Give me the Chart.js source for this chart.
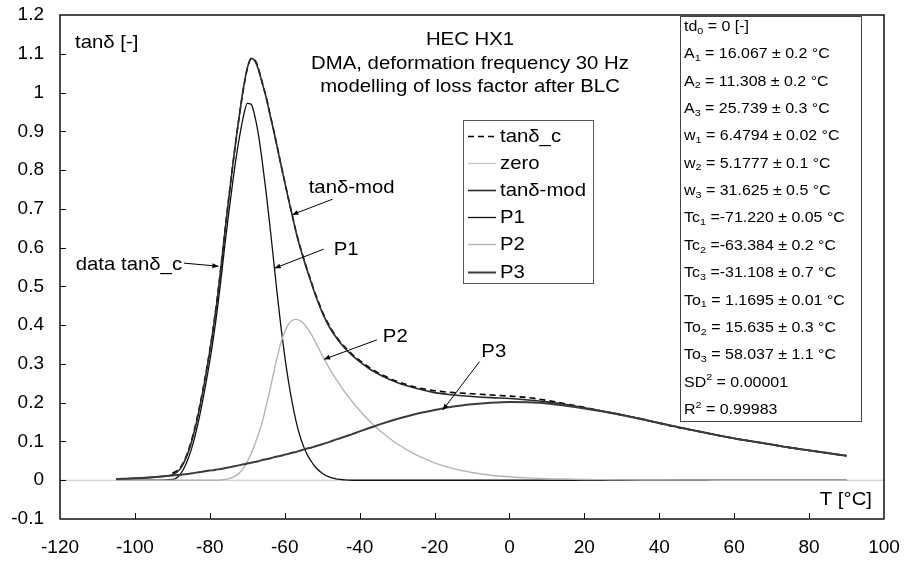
<!DOCTYPE html>
<html>
<head>
<meta charset="utf-8">
<title>HEC HX1 - tanδ</title>
<script src="https://cdn.jsdelivr.net/npm/chart.js@4/dist/chart.umd.min.js"></script>
<style>
  body { margin: 0; background: #fff; }
  #wrap { width: 904px; height: 563px; position: relative; }
</style>
</head>
<body>
<div id="wrap"><canvas id="chart-tan"></canvas></div>
<script>
// temperature grid [°C]
var temps = [-105, -100, -95, -90, -88, -86, -84, -82,
  -80, -79, -78, -77, -76, -75, -74, -73, -72, -71, -70, -69, -68, -67, -66,
  -65, -64, -63, -62, -61, -60, -59, -58, -57, -56, -55, -54, -53, -52,
  -50, -48, -46, -44, -42, -40, -37, -34, -30,
  -25, -20, -15, -10, -5, 0,
  5, 10, 15, 20, 25, 30, 35, 40, 45, 50, 55, 60, 65, 70, 75, 80, 85, 90];

// measured loss factor (starts at -90)
var tanC = [null, null, null, 0.018, 0.031, 0.069, 0.135, 0.226,
  0.336, 0.400, 0.471, 0.553, 0.640, 0.724, 0.803, 0.879, 0.948, 1.011, 1.061, 1.086, 1.084, 1.061, 1.026,
  0.990, 0.947, 0.905, 0.860, 0.814, 0.770, 0.726, 0.684, 0.642, 0.606, 0.574, 0.543, 0.514, 0.486,
  0.436, 0.397, 0.367, 0.344, 0.325, 0.309, 0.288, 0.272, 0.255,
  0.240, 0.231, 0.226, 0.223, 0.220, 0.217,
  0.213, 0.206, 0.197, 0.188, 0.178, 0.168, 0.158, 0.147, 0.136, 0.127, 0.117, 0.108, 0.100, 0.092, 0.084, 0.077, 0.070, 0.063];

// model sum
var tanMod = [0.003, 0.005, 0.008, 0.014, 0.028, 0.066, 0.131, 0.222,
  0.333, 0.396, 0.468, 0.550, 0.638, 0.722, 0.802, 0.879, 0.949, 1.013, 1.063, 1.088, 1.082, 1.059, 1.024,
  0.989, 0.946, 0.904, 0.859, 0.813, 0.769, 0.725, 0.683, 0.641, 0.604, 0.572, 0.541, 0.512, 0.483,
  0.433, 0.394, 0.365, 0.341, 0.322, 0.306, 0.285, 0.269, 0.252,
  0.237, 0.226, 0.220, 0.216, 0.213, 0.211,
  0.207, 0.202, 0.195, 0.187, 0.178, 0.169, 0.159, 0.148, 0.137, 0.127, 0.117, 0.108, 0.100, 0.092, 0.084, 0.077, 0.070, 0.063];

var p1 = [0, 0, 0, 0.002, 0.014, 0.050, 0.112, 0.200,
  0.308, 0.370, 0.440, 0.520, 0.605, 0.685, 0.760, 0.830, 0.890, 0.940, 0.972, 0.970, 0.940, 0.890, 0.822,
  0.745, 0.660, 0.570, 0.480, 0.395, 0.320, 0.255, 0.200, 0.153, 0.116, 0.088, 0.066, 0.050, 0.036,
  0.018, 0.008, 0.003, 0.001, 0, 0, 0, 0, 0,
  0, 0, 0, 0, 0, 0,
  0, 0, 0, 0, 0, 0, 0, 0, 0, 0, 0, 0, 0, 0, 0, 0, 0, 0];

var p2 = [0, 0, 0, 0, 0, 0, 0, 0,
  0, 0, 0, 0.001, 0.002, 0.004, 0.007, 0.012, 0.020, 0.032, 0.048, 0.068, 0.092, 0.120, 0.150,
  0.190, 0.230, 0.275, 0.318, 0.355, 0.383, 0.402, 0.412, 0.415, 0.412, 0.405, 0.393, 0.378, 0.360,
  0.322, 0.287, 0.256, 0.228, 0.203, 0.180, 0.149, 0.123, 0.094,
  0.066, 0.045, 0.030, 0.020, 0.013, 0.009,
  0.006, 0.004, 0.003, 0.002, 0.0015, 0.001, 0.0007, 0.0005, 0.0003, 0.0002, 0.0001, 0, 0, 0, 0, 0, 0, 0];

var p3 = [0.003, 0.005, 0.008, 0.012, 0.014, 0.016, 0.019, 0.022,
  0.025, 0.026, 0.028, 0.029, 0.031, 0.033, 0.035, 0.037, 0.039, 0.041, 0.043, 0.045, 0.047, 0.049, 0.052,
  0.054, 0.056, 0.059, 0.061, 0.063, 0.066, 0.068, 0.071, 0.073, 0.076, 0.079, 0.082, 0.084, 0.087,
  0.093, 0.099, 0.106, 0.112, 0.119, 0.126, 0.136, 0.146, 0.158,
  0.171, 0.181, 0.190, 0.196, 0.200, 0.202,
  0.201, 0.198, 0.192, 0.185, 0.177, 0.168, 0.158, 0.147, 0.137, 0.127, 0.117, 0.108, 0.100, 0.092, 0.084, 0.077, 0.070, 0.063];

var zeroT = [-120, 100];
var zeroV = [0, 0];

var titleLines = ["HEC HX1", "DMA, deformation frequency 30 Hz", "modelling of loss factor after BLC"];

// fit parameters, _n = subscript, ^n = superscript
var params = [
  "td_0 = 0 [-]",
  "A_1 = 16.067 ± 0.2 °C",
  "A_2 = 11.308 ± 0.2 °C",
  "A_3 = 25.739 ± 0.3 °C",
  "w_1 = 6.4794 ± 0.02 °C",
  "w_2 = 5.1777 ± 0.1 °C",
  "w_3 = 31.625 ± 0.5 °C",
  "Tc_1 =-71.220 ± 0.05 °C",
  "Tc_2 =-63.384 ± 0.2 °C",
  "Tc_3 =-31.108 ± 0.7 °C",
  "To_1 = 1.1695 ± 0.01 °C",
  "To_2 = 15.635 ± 0.3 °C",
  "To_3 = 58.037 ± 1.1 °C",
  "SD^2 = 0.00001",
  "R^2 = 0.99983"
];

// callouts: text anchor (tx,ty), arrow from (fx,fy) to (ax,ay), data units
var notes = [
  { text: "data tanδ_c", align: "right", tx: -87.4, ty: 0.555, fx: -86.9, fy: 0.560, ax: -77.7, ay: 0.552 },
  { text: "tanδ-mod", align: "left", tx: -53.6, ty: 0.754, fx: -47.2, fy: 0.725, ax: -58.0, ay: 0.685 },
  { text: "P1", align: "left", tx: -46.9, ty: 0.594, fx: -49.6, fy: 0.596, ax: -62.7, ay: 0.547 },
  { text: "P2", align: "left", tx: -33.8, ty: 0.369, fx: -35.4, fy: 0.362, ax: -49.5, ay: 0.312 },
  { text: "P3", align: "left", tx: -7.5, ty: 0.331, fx: -8.0, fy: 0.306, ax: -17.8, ay: 0.181 }
];

var FONT = '"Liberation Sans", Arial, sans-serif';
var SX = 1.1; // text is a bit wide in this layout

function pts(xs, ys) {
  return xs.map(function (x, i) { return { x: x, y: ys[i] }; });
}

function txt(ctx, s, x, y, align, size) {
  ctx.save();
  ctx.font = size + "px " + FONT;
  ctx.textBaseline = "middle";
  ctx.textAlign = "left";
  ctx.fillStyle = "#000";
  var w = ctx.measureText(s).width * SX;
  var x0 = align === "center" ? x - w / 2 : (align === "right" ? x - w : x);
  ctx.translate(x0, y);
  ctx.scale(SX, 1);
  ctx.fillText(s, 0, 0);
  ctx.restore();
  return w;
}

function richLine(ctx, line, x, y, size) {
  var m = line.match(/^([A-Za-z]+)([_^])(\d)(.*)$/);
  if (!m) { txt(ctx, line, x, y, "left", size); return; }
  x += txt(ctx, m[1], x, y, "left", size);
  var dy = m[2] === "_" ? 4 : -5;
  x += txt(ctx, m[3], x, y + dy, "left", size * 0.68);
  txt(ctx, m[4], x, y, "left", size);
}

function arrow(ctx, x1, y1, x2, y2) {
  var ang = Math.atan2(y2 - y1, x2 - x1);
  ctx.save();
  ctx.strokeStyle = "#000";
  ctx.fillStyle = "#000";
  ctx.lineWidth = 1;
  ctx.beginPath();
  ctx.moveTo(x1, y1);
  ctx.lineTo(x2, y2);
  ctx.stroke();
  ctx.translate(x2, y2);
  ctx.rotate(ang);
  ctx.beginPath();
  ctx.moveTo(0, 0);
  ctx.lineTo(-6, -2.5);
  ctx.lineTo(-6, 2.5);
  ctx.closePath();
  ctx.fill();
  ctx.restore();
}

var decorations = {
  id: "decorations",
  afterDatasetsDraw: function (chart) {
    var ctx = chart.ctx, a = chart.chartArea;
    var xs = chart.scales.x, ys = chart.scales.y;

    // frame
    ctx.save();
    ctx.strokeStyle = "#000";
    ctx.lineWidth = 1.4;
    ctx.strokeRect(a.left, a.top, a.right - a.left, a.bottom - a.top);

    // inward tick marks
    ctx.lineWidth = 1;
    ctx.beginPath();
    xs.ticks.forEach(function (t, i) {
      if (i === 0 || i === xs.ticks.length - 1) return;
      var px = Math.round(xs.getPixelForValue(t.value)) + 0.5;
      ctx.moveTo(px, a.bottom);
      ctx.lineTo(px, a.bottom - 6);
    });
    ys.ticks.forEach(function (t, i) {
      if (i === 0 || i === ys.ticks.length - 1) return;
      var py = Math.round(ys.getPixelForValue(t.value)) + 0.5;
      ctx.moveTo(a.left, py);
      ctx.lineTo(a.left + 6, py);
    });
    ctx.stroke();
    ctx.restore();

    // axis names
    txt(ctx, "tanδ [-]", a.left + 15, a.top + 28, "left", 18.5);
    txt(ctx, "T [°C]", a.right - 12, a.bottom - 19, "right", 18.5);

    // title block
    titleLines.forEach(function (s, i) {
      txt(ctx, s, 470, 40 + i * 23.5, "center", 18.5);
    });

    // callouts
    notes.forEach(function (n) {
      txt(ctx, n.text, xs.getPixelForValue(n.tx), ys.getPixelForValue(n.ty), n.align, 18.5);
      arrow(ctx, xs.getPixelForValue(n.fx), ys.getPixelForValue(n.fy),
        xs.getPixelForValue(n.ax), ys.getPixelForValue(n.ay));
    });

    // legend box
    ctx.save();
    ctx.fillStyle = "#fff";
    ctx.strokeStyle = "#555";
    ctx.lineWidth = 1;
    ctx.fillRect(463.5, 120.5, 130, 163);
    ctx.strokeRect(463.5, 120.5, 130, 163);
    chart.data.datasets.forEach(function (ds, i) {
      var y = Math.round(136 + i * 27.1) + 0.5;
      ctx.save();
      ctx.strokeStyle = ds.borderColor;
      ctx.lineWidth = ds.borderWidth;
      ctx.setLineDash(ds.borderDash || []);
      ctx.beginPath();
      ctx.moveTo(468, y);
      ctx.lineTo(496, y);
      ctx.stroke();
      ctx.restore();
      txt(ctx, ds.label, 500, y, "left", 18.5);
    });
    ctx.restore();

    // parameter box
    ctx.save();
    ctx.fillStyle = "#fff";
    ctx.strokeStyle = "#444";
    ctx.lineWidth = 1;
    ctx.fillRect(680.5, 16.5, 181, 405);
    ctx.strokeRect(680.5, 16.5, 181, 405);
    ctx.restore();
    params.forEach(function (s, i) {
      richLine(ctx, s, 684, 27 + i * 27.35, 14.5);
    });
  }
};

var tickFont = { family: FONT, size: 19 };

var ctx = document.getElementById("chart-tan").getContext("2d");
var myChart = new Chart(ctx, {
  type: "line",
  data: {
    datasets: [
      { label: "tanδ_c", data: pts(temps, tanC), borderColor: "#000", borderWidth: 1.6, borderDash: [6, 4], order: 6 },
      { label: "zero", data: pts(zeroT, zeroV), borderColor: "#c4c4c4", borderWidth: 1.2, order: 5 },
      { label: "tanδ-mod", data: pts(temps, tanMod), borderColor: "#2a2a2a", borderWidth: 1.6, order: 4 },
      { label: "P1", data: pts(temps, p1), borderColor: "#111", borderWidth: 1.3, order: 3 },
      { label: "P2", data: pts(temps, p2), borderColor: "#b4b4b4", borderWidth: 1.4, order: 2 },
      { label: "P3", data: pts(temps, p3), borderColor: "#3c3c3c", borderWidth: 2, order: 1 }
    ]
  },
  options: {
    responsive: true,
    maintainAspectRatio: false,
    animation: false,
    layout: { padding: { top: 15, right: 20, left: 0, bottom: 0 } },
    elements: {
      point: { radius: 0 },
      line: { cubicInterpolationMode: "monotone", fill: false }
    },
    plugins: {
      legend: { display: false },
      tooltip: { enabled: false }
    },
    scales: {
      x: {
        type: "linear",
        min: -120,
        max: 100,
        grid: { display: false, drawTicks: false },
        border: { display: false },
        ticks: { stepSize: 20, color: "#000", font: tickFont, padding: 17, maxRotation: 0 },
        afterFit: function (s) {
          s.height = 44;
          s.paddingLeft = 0;
          s.paddingRight = 0;
        }
      },
      y: {
        type: "linear",
        min: -0.1,
        max: 1.2,
        grid: { display: false, drawTicks: false },
        border: { display: false },
        ticks: {
          stepSize: 0.1,
          color: "#000",
          font: tickFont,
          padding: 16,
          callback: function (v) { return String(Math.round(v * 10) / 10); }
        },
        afterFit: function (s) {
          s.width = 60;
          s.paddingTop = 0;
          s.paddingBottom = 0;
        }
      }
    }
  },
  plugins: [decorations]
});
</script>
</body>
</html>
